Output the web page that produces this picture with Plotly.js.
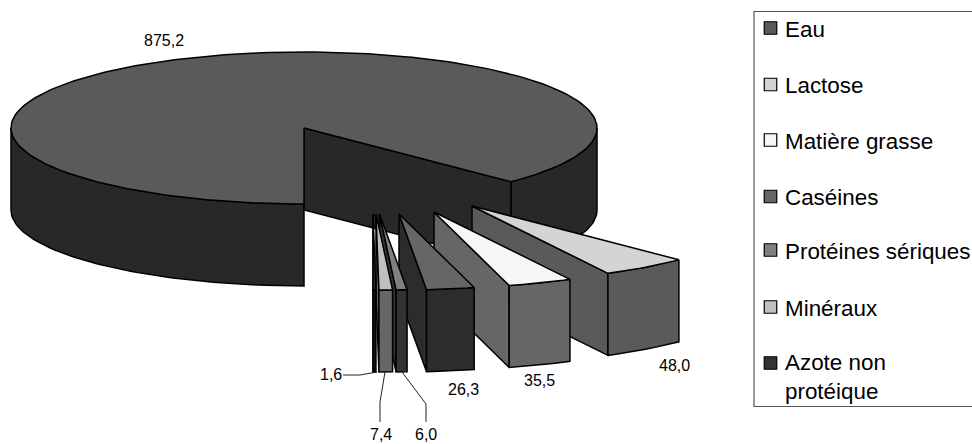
<!DOCTYPE html>
<html><head><meta charset="utf-8">
<script src="https://cdn.plot.ly/plotly-3.0.1.min.js"></script>
<style>html,body{margin:0;padding:0;background:#fff}#c{width:972px;height:444px}</style>
</head><body><div id="c"></div>
<script>
const categories = ['Eau','Lactose','Matière grasse','Caséines','Protéines sériques','Minéraux','Azote non<br>protéique'];
const values = [875.2,48.0,35.5,26.3,6.0,7.4,1.6];
const valueLabels = ['875,2','48,0','35,5','26,3','6,0','7,4','1,6'];
const topColors = ['#5a5a5a','#d4d4d4','#f6f6f6','#666666','#808080','#c0c0c0','#333333'];
const sideColors = ['#282828','#5a5a5a','#666666','#2c2c2c','#333333','#666666','#111111'];

// pie geometry (paper pixels)
const CX=304, CY=128, RX=293, RY=76, DEPTH=82, START=180;
const explodeX=[0,168,130,95,75.5,72,69];
const explodeY=[0,78,84,86,86,86,86];
const labelX=[163.5,674,539,463,426,381,331];
const labelY=[40,365,380,389,434,434,374];
const legendY=[28,84.5,140,196.5,250,307,363];
const legendTextY=[29,85.5,141,197.5,251,308,377];

const total=values.reduce((a,b)=>a+b,0);
const rad=d=>d*Math.PI/180;
const traces=[];
function poly(pts,fill,w){
  traces.push({type:'scatter',mode:'lines',x:pts.map(p=>p[0]),y:pts.map(p=>p[1]),fill:'toself',fillcolor:fill,
    line:{color:'#000',width:w||1.5,shape:'linear'},hoverinfo:'skip',showlegend:false});
}
const pt=(a,ox,oy,z)=>[CX+ox+RX*Math.sin(rad(a)),CY+oy-RY*Math.cos(rad(a))+(z||0)];
function arc(a0,a1,ox,oy,z){
  const n=Math.max(2,Math.ceil(Math.abs(a1-a0)/1.5)),r=[];
  for(let i=0;i<=n;i++) r.push(pt(a0+(a1-a0)*i/n,ox,oy,z));
  return r;
}
let angle=START;
const spans=values.map(v=>{const s=[angle,angle+v/total*360];angle=s[1];return s;});

// main slice (Eau)
(function(){
  const [a0,a1]=spans[0];
  poly(arc(a0,270,0,0,0).concat(arc(270,a0,0,0,DEPTH)).concat([pt(a0,0,0,0)]),sideColors[0]);
  poly(arc(450,a1,0,0,0).concat(arc(a1,450,0,0,DEPTH)).concat([pt(450,0,0,0)]),sideColors[0]);
  const c=[CX,CY],e=pt(a1,0,0,0);
  poly([c,e,[e[0],e[1]+DEPTH],[c[0],c[1]+DEPTH],c],sideColors[0]);
  poly([c].concat(arc(a0,a1,0,0,0)).concat([c]),topColors[0]);
})();

// exploded slices, back to front
[1,2,3,4,5,6].forEach(i=>{
  const r=spans[i][0]-360, l=spans[i][1]-360, ox=explodeX[i], oy=explodeY[i];
  const apex=[CX+ox,CY+oy], L=pt(l,ox,oy,0);
  poly([apex,L,[L[0],L[1]+DEPTH],[apex[0],apex[1]+DEPTH],apex],sideColors[i]);
  poly(arc(r,l,ox,oy,0).concat(arc(l,r,ox,oy,DEPTH)).concat([pt(r,ox,oy,0)]),sideColors[i]);
  poly([apex].concat(arc(r,l,ox,oy,0)).concat([apex]),topColors[i]);
});

// legend swatches
categories.forEach((c,i)=>{
  traces.push({type:'scatter',mode:'markers',x:[770.5],y:[legendY[i]],name:c.replace('<br>',' '),
    marker:{symbol:'square',size:12.5,color:topColors[i],line:{color:'#000',width:1.2}},hoverinfo:'skip',showlegend:false});
});

const annotations=[];
values.forEach((v,i)=>annotations.push({x:labelX[i],y:labelY[i],xref:'x',yref:'y',text:valueLabels[i],showarrow:false,
  xanchor:'center',yanchor:'middle',font:{family:'Liberation Sans, Arial, sans-serif',size:16,color:'#000'}}));
categories.forEach((c,i)=>annotations.push({x:785,y:legendTextY[i],xref:'x',yref:'y',text:c,showarrow:false,align:'left',
  xanchor:'left',yanchor:'middle',xshift:-2,font:{family:'Liberation Sans, Arial, sans-serif',size:22.4,color:'#000'}}));

const leader={color:'#222',width:1};
const shapes=[
 {type:'rect',xref:'x',yref:'y',x0:754,x1:973,y0:11.5,y1:406.5,line:{color:'#555',width:1.2},fillcolor:'rgba(0,0,0,0)',layer:'below'},
 {type:'path',xref:'x',yref:'y',path:'M343 375 L360 375 L377 372',line:leader},
 {type:'path',xref:'x',yref:'y',path:'M385 372 L380 402 L380 422',line:leader},
 {type:'path',xref:'x',yref:'y',path:'M402 372 L426 404 L426 422',line:leader}
];

Plotly.newPlot('c',traces,{
  width:972,height:444,margin:{l:0,r:0,t:0,b:0},paper_bgcolor:'#fff',plot_bgcolor:'#fff',showlegend:false,
  xaxis:{range:[0,972],visible:false,fixedrange:true},
  yaxis:{range:[444,0],visible:false,fixedrange:true},
  annotations,shapes
},{staticPlot:true,displayModeBar:false});
</script></body></html>
